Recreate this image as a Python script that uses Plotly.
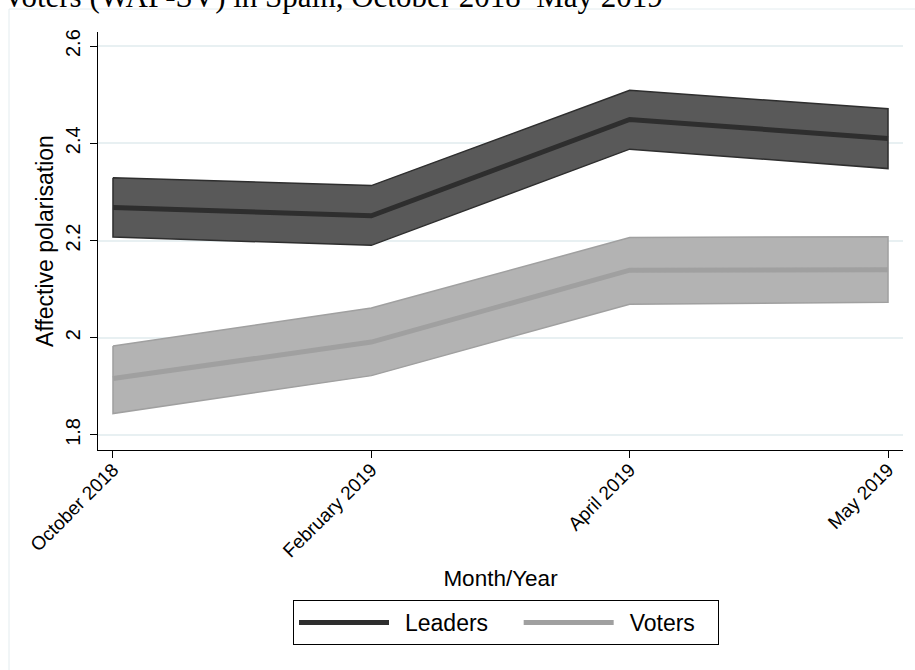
import plotly.graph_objects as go

months = ["October 2018", "February 2019", "April 2019", "May 2019"]

leaders_mean = [2.268, 2.251, 2.449, 2.410]
leaders_upper = [2.329, 2.313, 2.509, 2.471]
leaders_lower = [2.207, 2.190, 2.388, 2.348]

voters_mean = [1.916, 1.991, 2.139, 2.140]
voters_upper = [1.983, 2.061, 2.206, 2.208]
voters_lower = [1.844, 1.922, 2.069, 2.073]

y_ticks = [1.8, 2.0, 2.2, 2.4, 2.6]
y_ticktext = ["1.8", "2", "2.2", "2.4", "2.6"]

series_names = ["Leaders", "Voters"]

title_text = "Voters (WAP-SV) in Spain, October 2018\u2013May 2019"

W, H = 915, 670
L, R, T, B = 98, 12, 32, 220
pw, ph = W - L - R, H - T - B


def px_x(px):
    return (px - L) / pw


def px_y(py):
    return (H - B - py) / ph


fig = go.Figure()


def band(upper, lower, fill, edge):
    xs = months + months[::-1] + [months[0]]
    ys = upper + lower[::-1] + [upper[0]]
    return go.Scatter(x=xs, y=ys, mode="lines", fill="toself", fillcolor=fill,
                      line=dict(color=edge, width=1.5), showlegend=False,
                      hoverinfo="skip")


lead = "\u00a0\u2009"
fig.add_trace(band(leaders_upper, leaders_lower, "#595959", "#2e2e2e"))
fig.add_trace(go.Scatter(x=months, y=leaders_mean, mode="lines",
                         name=lead + series_names[0] + "\u00a0" * 4,
                         line=dict(color="#2e2e2e", width=5)))
fig.add_trace(band(voters_upper, voters_lower, "#b3b3b3", "#a0a0a0"))
fig.add_trace(go.Scatter(x=months, y=voters_mean, mode="lines",
                         name=lead + series_names[1] + "\u00a0\u00a0\u2009",
                         line=dict(color="#a0a0a0", width=5)))

font_sans = "Liberation Sans, Arial, sans-serif"

fig.update_layout(
    width=W, height=H,
    margin=dict(l=L, r=R, t=T, b=B, autoexpand=False),
    paper_bgcolor="white", plot_bgcolor="white",
    font=dict(family=font_sans, color="black"),
    showlegend=True,
    legend=dict(orientation="h", x=px_x(506), xanchor="center",
                y=px_y(600), yanchor="top",
                bordercolor="black", borderwidth=1,
                font=dict(size=23, family=font_sans),
                itemwidth=90),
    xaxis=dict(
        type="category", range=[-0.058, 3.058],
        showline=True, linecolor="black", linewidth=1.3,
        ticks="outside", ticklen=7, tickcolor="black", tickwidth=1.3,
        tickangle=-45, tickfont=dict(size=19), ticklabelstandoff=-7,
        showgrid=False, zeroline=False,
        title=dict(text="Month/Year", font=dict(size=22.5), standoff=9),
        automargin=False,
    ),
    yaxis=dict(
        range=[1.769, 2.629],
        tickvals=y_ticks, ticktext=y_ticktext, tickangle=-90,
        showline=True, linecolor="black", linewidth=1.3,
        ticks="outside", ticklen=7, tickcolor="black", tickwidth=1.3,
        tickfont=dict(size=20), ticklabelstandoff=2,
        showgrid=True, gridcolor="#e8f0f2", gridwidth=1.5,
        zeroline=False,
        title=dict(text="Affective polarisation", font=dict(size=23), standoff=1),
        automargin=False,
    ),
    shapes=[dict(type="rect", xref="paper", yref="paper",
                 x0=px_x(9), x1=px_x(930), y0=px_y(690), y1=px_y(9),
                 line=dict(color="#e3ecef", width=1), layer="below")],
    annotations=[dict(text=title_text, xref="paper", yref="paper",
                      x=px_x(1), xanchor="left", y=px_y(-3.5), yanchor="middle",
                      showarrow=False,
                      font=dict(family="Liberation Serif, Times New Roman, serif",
                                size=31, color="black"))],
)

fig.write_html("out.html")
